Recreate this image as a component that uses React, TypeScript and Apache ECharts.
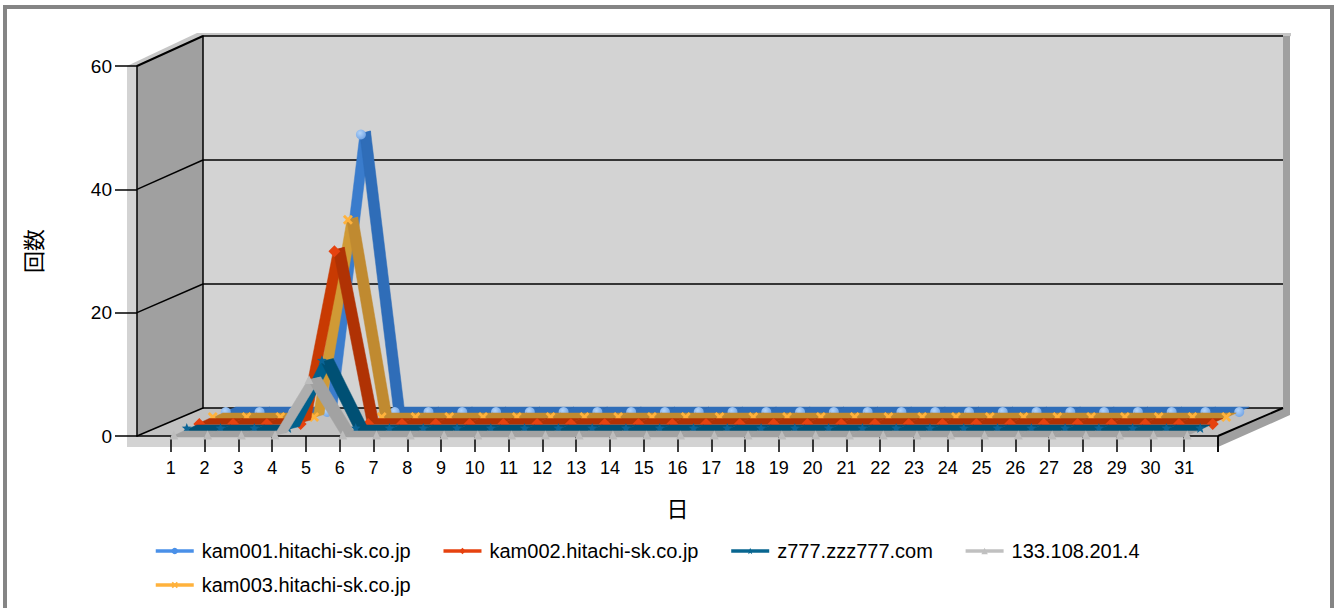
import React, { useEffect, useRef } from "react";
import * as echarts from "echarts";

const dayLabels = ["", "1", "2", "3", "4", "5", "6", "7", "8", "9", "10", "11", "12", "13", "14", "15", "16", "17", "18", "19", "20", "21", "22", "23", "24", "25", "26", "27", "28", "29", "30", "31", ""];
const yTicks = [0, 20, 40, 60];

const kam001 = [0, 0, 0, 0, 45, 0, 0, 0, 0, 0, 0, 0, 0, 0, 0, 0, 0, 0, 0, 0, 0, 0, 0, 0, 0, 0, 0, 0, 0, 0, 0];
const kam002 = [0, 0, 0, 0, 28, 0, 0, 0, 0, 0, 0, 0, 0, 0, 0, 0, 0, 0, 0, 0, 0, 0, 0, 0, 0, 0, 0, 0, 0, 0, 0];
const z777 = [0, 0, 0, 0, 11, 0, 0, 0, 0, 0, 0, 0, 0, 0, 0, 0, 0, 0, 0, 0, 0, 0, 0, 0, 0, 0, 0, 0, 0, 0, 0];
const ip133 = [0, 0, 0, 0, 9, 0, 0, 0, 0, 0, 0, 0, 0, 0, 0, 0, 0, 0, 0, 0, 0, 0, 0, 0, 0, 0, 0, 0, 0, 0, 0];
const kam003 = [0, 0, 0, 0, 32, 0, 0, 0, 0, 0, 0, 0, 0, 0, 0, 0, 0, 0, 0, 0, 0, 0, 0, 0, 0, 0, 0, 0, 0, 0, 0];

const FONT = "'Liberation Sans', Arial, sans-serif";
const CJK = "'Noto Sans CJK JP', sans-serif";

const blueBall = {
  type: "radial", x: 0.4, y: 0.35, r: 0.65,
  colorStops: [{ offset: 0, color: "#B4D4F8" }, { offset: 1, color: "#74A6E6" }],
};

// Back-to-front drawing order; each series lies on its own depth plane.
const depthSeries = [
  { name: "kam001.hitachi-sk.co.jp", values: kam001, dx: 55, dy: -26, off: 2, symbol: "circle", size: 10, marker: blueBall, legend: "#4A90E8", rise: "#3A7CCC", fall: "#2F6DB8" },
  { name: "kam003.hitachi-sk.co.jp", values: kam003, dx: 42, dy: -20, off: 1, symbol: "path://M0,2 L2,0 L5,3 L8,0 L10,2 L7,5 L10,8 L8,10 L5,7 L2,10 L0,8 L3,5 Z", size: 10, marker: "#FFB23C", legend: "#FFB23C", rise: "#D09A35", fall: "#C08A30" },
  { name: "kam002.hitachi-sk.co.jp", values: kam002, dx: 28.5, dy: -14.5, off: 2.5, symbol: "diamond", size: 12, marker: "#E6420F", legend: "#E6420F", rise: "#C83A02", fall: "#B03204" },
  { name: "z777.zzz777.com", values: z777, dx: 16, dy: -8, off: 0, symbol: "path://M5,0 L6.3,3.6 L10,3.8 L7.1,6.1 L8.1,10 L5,7.8 L1.9,10 L2.9,6.1 L0,3.8 L3.7,3.6 Z", size: 10, marker: "#0A6496", legend: "#086690", rise: "#00608C", fall: "#005074" },
  { name: "133.108.201.4", values: ip133, dx: 3, dy: -2, off: 1, symbol: "triangle", size: 9, marker: "#BDBDBD", legend: "#C0C0C0", rise: "#AEAEAE", fall: "#A2A2A2" },
];

const legendRow1 = ["kam001.hitachi-sk.co.jp", "kam002.hitachi-sk.co.jp", "z777.zzz777.com", "133.108.201.4"];
const legendRow2 = ["kam003.hitachi-sk.co.jp"];

const FRONT = { left: 137, top: 66, width: 1081, height: 370 };

function legendData(names: string[]) {
  return names.map((n) => {
    const s = depthSeries.find((d) => d.name === n)!;
    return {
      name: n,
      itemStyle: { color: s.legend, opacity: 1 },
      lineStyle: { color: s.legend, width: 3.5, opacity: 1 },
    };
  });
}

function buildOption() {
  const grids: any[] = [
    { ...FRONT },
    { left: 203, top: 36, width: 1080, height: 372 },
  ];
  const xAxes: any[] = [
    {
      gridIndex: 0,
      type: "category",
      boundaryGap: false,
      data: dayLabels,
      name: "日",
      nameLocation: "middle",
      nameGap: 60,
      nameTextStyle: { fontFamily: CJK, fontSize: 22, color: "#000" },
      axisLine: { lineStyle: { color: "#000", width: 1.5 } },
      axisTick: { length: 16, interval: (i: number) => i > 0, lineStyle: { color: "#000", width: 1.5 } },
      axisLabel: { interval: 0, margin: 23, fontFamily: FONT, fontSize: 18, color: "#000" },
    },
    { gridIndex: 1, type: "category", boundaryGap: false, data: dayLabels, show: false },
  ];
  const yAxes: any[] = [
    {
      gridIndex: 0,
      type: "value",
      min: 0,
      max: 60,
      interval: 20,
      name: "回数",
      nameLocation: "middle",
      nameGap: 94,
      nameRotate: 90,
      nameTextStyle: { fontFamily: CJK, fontSize: 22, color: "#000" },
      splitLine: { show: false },
      axisLine: { show: true, lineStyle: { color: "#000", width: 1.5 } },
      axisTick: { show: true, length: 22, lineStyle: { color: "#000", width: 1.5 } },
      axisLabel: { margin: 25, fontFamily: FONT, fontSize: 19, color: "#000" },
    },
    {
      gridIndex: 1,
      type: "value",
      min: 0,
      max: 60,
      interval: 20,
      axisLabel: { show: false },
      axisTick: { show: false },
      axisLine: { show: true, lineStyle: { color: "#000", width: 1.5 } },
      splitLine: { show: true, lineStyle: { color: "#000", width: 1.5 } },
    },
  ];

  const series: any[] = [
    {
      type: "custom",
      silent: true,
      xAxisIndex: 0,
      yAxisIndex: 0,
      z: 1,
      clip: false,
      data: yTicks.map((v) => [0, v]),
      encode: { x: 0, y: 1 },
      renderItem: (_: any, api: any) => {
        const v = api.value(1);
        const p = api.coord([0, v]);
        return {
          type: "line",
          shape: { x1: p[0], y1: p[1], x2: p[0] + 66, y2: p[1] - 28 - (v / 60) * 2 },
          style: { stroke: "#000", lineWidth: v === 60 ? 2 : 1.5 },
        };
      },
    },
  ];

  depthSeries.forEach((s, idx) => {
    const g = grids.length;
    grids.push({ left: FRONT.left + s.dx, top: FRONT.top + s.dy, width: FRONT.width, height: FRONT.height });
    xAxes.push({ gridIndex: g, type: "category", boundaryGap: false, data: dayLabels, show: false });
    yAxes.push({ gridIndex: g, type: "value", min: 0, max: 60, interval: 20, show: false, splitLine: { show: false } });
    const segs = s.values.slice(0, -1).map((v, i) => [i + 1, v, s.values[i + 1]]);
    series.push({
      type: "custom",
      silent: true,
      xAxisIndex: g,
      yAxisIndex: g,
      z: 10 + idx * 2,
      clip: false,
      data: segs,
      encode: { x: 0, y: 1 },
      renderItem: (_: any, api: any) => {
        const i = api.value(0);
        const v0 = api.value(1);
        const v1 = api.value(2);
        const a = api.coord([i, v0]);
        const b = api.coord([i + 1, v1]);
        const color = v1 > v0 ? s.rise : s.fall;
        const flat = v0 === v1;
        const rate = flat ? 0 : Math.abs((b[0] - a[0]) / (b[1] - a[1]));
        const w = flat ? 13 : 10 + Math.min(rate / 0.62, 1) * 3;
        const h = flat ? 6 : 3;
        const left = flat ? -3 : -1;
        return {
          type: "polygon",
          shape: {
            points: [
              [a[0] + left, a[1] + h / 2],
              [b[0] + left, b[1] + h / 2],
              [b[0] + left + w, b[1] - h / 2],
              [a[0] + left + w, a[1] - h / 2],
            ],
          },
          style: { fill: color, stroke: color, lineWidth: 0.5 },
        };
      },
    });
    series.push({
      type: "line",
      name: s.name,
      xAxisIndex: g,
      yAxisIndex: g,
      z: 11 + idx * 2,
      silent: true,
      symbol: s.symbol,
      symbolSize: s.size,
      symbolOffset: [0, s.off],
      showSymbol: true,
      showAllSymbol: true,
      connectNulls: false,
      itemStyle: { color: s.marker },
      lineStyle: { opacity: 0, width: 0 },
      data: [null, ...s.values, null],
    });
  });

  return {
    animation: false,
    backgroundColor: "#fff",
    grid: grids,
    xAxis: xAxes,
    yAxis: yAxes,
    series,
    legend: [
      {
        left: 154,
        top: 541,
        padding: 0,
        itemWidth: 38,
        itemHeight: 8,
        itemGap: 31,
        data: legendData(legendRow1),
        selectedMode: false,
        textStyle: { fontFamily: FONT, fontSize: 20, color: "#000", padding: [0, 0, 0, 3] },
      },
      {
        left: 154,
        top: 575,
        padding: 0,
        itemWidth: 38,
        itemHeight: 8,
        data: legendData(legendRow2),
        selectedMode: false,
        textStyle: { fontFamily: FONT, fontSize: 20, color: "#000", padding: [0, 0, 0, 3] },
      },
    ],
    graphic: [
      { type: "rect", z: -20, shape: { x: 5, y: 7, width: 1327, height: 700 }, style: { fill: "#fff", stroke: "#858585", lineWidth: 4 } },
      { type: "polygon", z: -19, shape: { points: [[127, 66], [197, 33], [1291, 33], [1291, 36], [127, 447]] }, style: { fill: "#C6C6C6" } },
      { type: "rect", z: -18, shape: { x: 127, y: 66, width: 1091, height: 381 }, style: { fill: "#D3D3D3" } },
      { type: "polygon", z: -18, shape: { points: [[1283, 36], [1290, 36], [1290, 415], [1218, 447], [1218, 436], [1283, 408]] }, style: { fill: "#A0A0A0" } },
      { type: "rect", z: -17, shape: { x: 203, y: 36, width: 1080, height: 372 }, style: { fill: "#D3D3D3" } },
      { type: "polygon", z: -17, shape: { points: [[137, 66], [203, 36], [203, 408], [137, 436]] }, style: { fill: "#A0A0A0" } },
      { type: "polygon", z: -17, shape: { points: [[137, 436], [203, 408], [1283, 408], [1218, 436]] }, style: { fill: "#C2C2C2" } },
      { type: "line", z: 1, shape: { x1: 1218, y1: 436, x2: 1283, y2: 408 }, style: { stroke: "#000", lineWidth: 2 } },
      { type: "line", z: 1, shape: { x1: 1218, y1: 436, x2: 1218, y2: 452 }, style: { stroke: "#000", lineWidth: 1.5 } },
    ],
  };
}

export default function App() {
  const ref = useRef<HTMLDivElement>(null);
  useEffect(() => {
    document.body.style.margin = "0";
    document.body.style.overflow = "hidden";
    const chart = echarts.init(ref.current!, undefined, { renderer: "svg", width: 1336, height: 608 });
    chart.setOption(buildOption() as any);
    return () => chart.dispose();
  }, []);
  return <div ref={ref} style={{ width: 1336, height: 608 }} />;
}
